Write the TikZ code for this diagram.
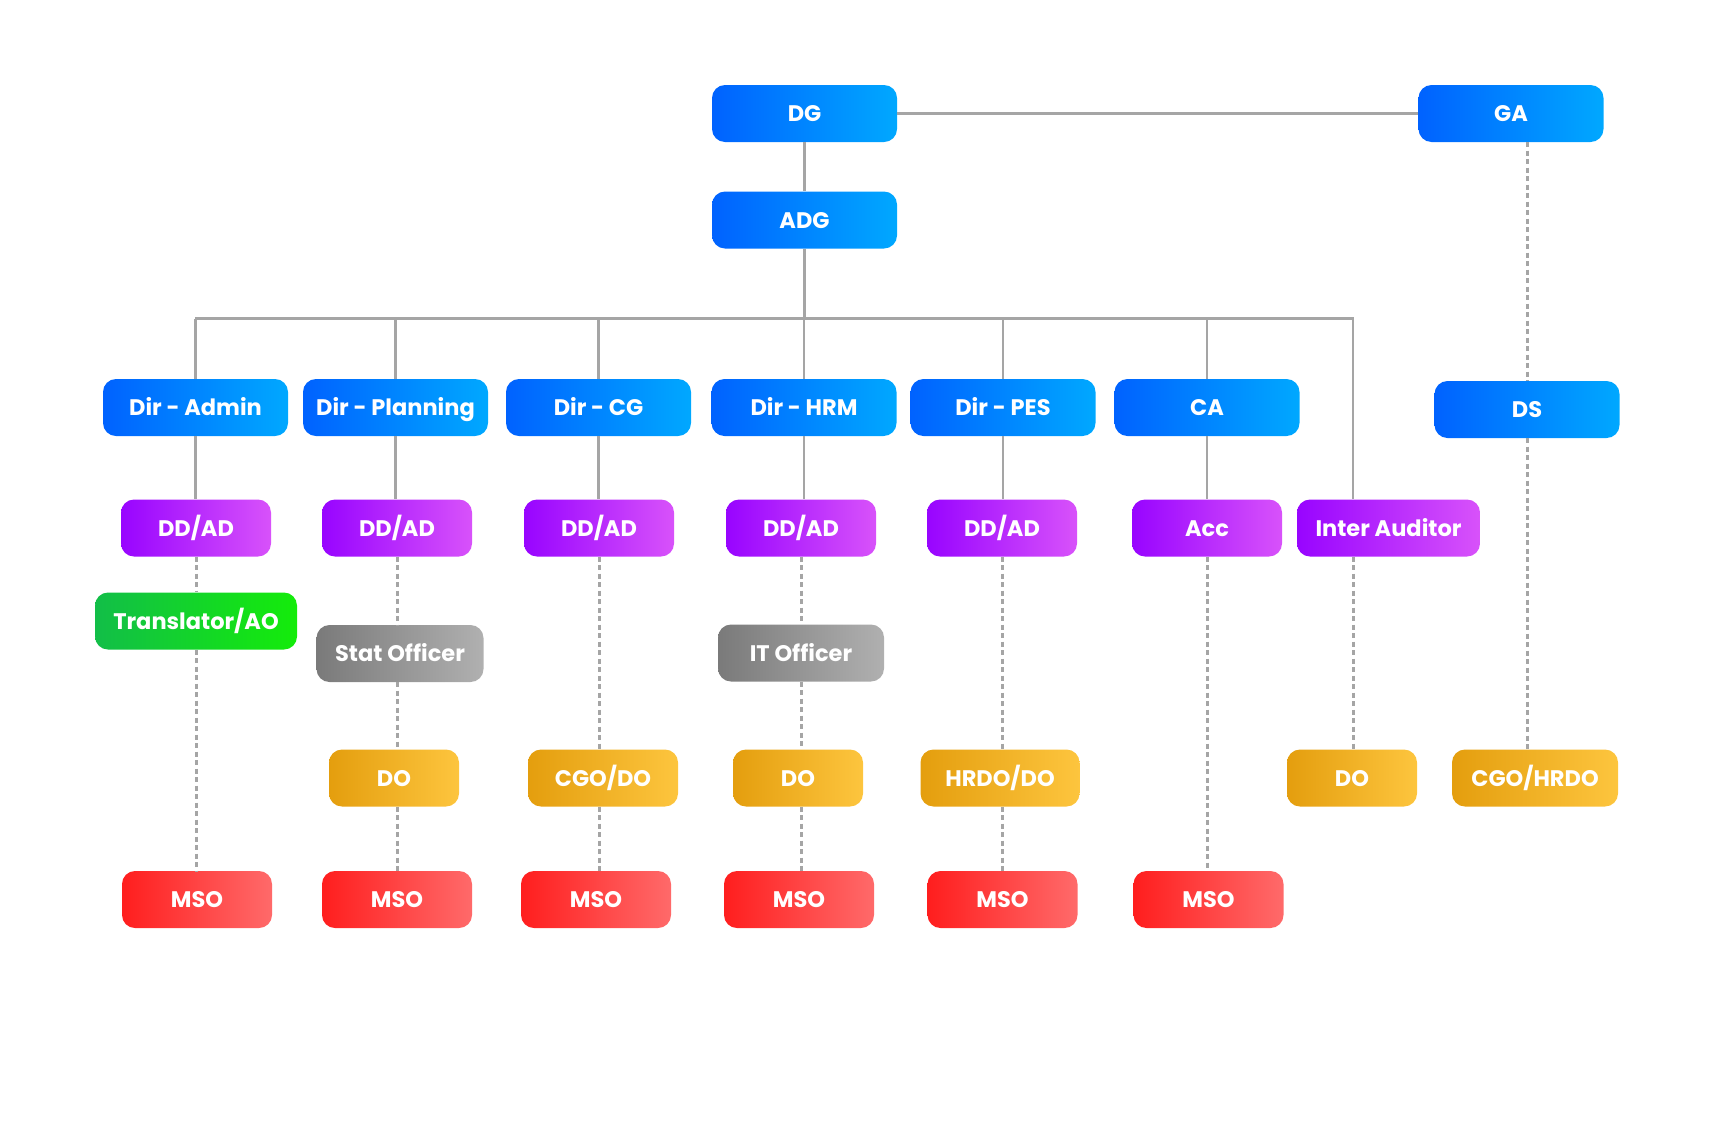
\documentclass[tikz,border=0pt]{standalone}
\usepackage{fontspec}
\setmainfont{Poppins}[BoldFont={* Bold}]
\definecolor{blueL}{RGB}{0,98,255}
\definecolor{blueR}{RGB}{0,168,255}
\definecolor{purL}{RGB}{152,4,255}
\definecolor{purR}{RGB}{216,82,250}
\definecolor{grnL}{RGB}{18,190,72}
\definecolor{grnR}{RGB}{20,236,10}
\definecolor{gryL}{RGB}{122,122,122}
\definecolor{gryR}{RGB}{176,176,176}
\definecolor{orgL}{RGB}{228,158,14}
\definecolor{orgR}{RGB}{253,197,62}
\definecolor{redL}{RGB}{255,30,30}
\definecolor{redR}{RGB}{255,106,106}
\definecolor{linegray}{RGB}{165,165,165}
\tikzset{
  box/.style={rounded corners=13pt, minimum height=57pt, inner sep=0pt,
    text height=16pt, text depth=0pt,
    text=white, font=\fontsize{22.5}{26}\selectfont\bfseries},
  bluebox/.style={box, left color=blueL, right color=blueR, minimum width=185pt},
  purbox/.style={box, left color=purL, right color=purR, minimum width=150pt},
  grnbox/.style={box, left color=grnL, right color=grnR, minimum width=202pt},
  grybox/.style={box, left color=gryL, right color=gryR, minimum width=167pt},
  orgbox/.style={box, left color=orgL, right color=orgR, minimum width=130pt},
  redbox/.style={box, left color=redL, right color=redR, minimum width=150pt},
  solidline/.style={draw=linegray, line width=2.6pt},
  dotline/.style={draw=linegray, line width=3pt, dash pattern=on 5pt off 3.5pt},
}
\begin{document}
\begin{tikzpicture}[x=1pt, y=-1pt]
\useasboundingbox (0,0) rectangle (1728,1144);
% top
\node[bluebox] (dg) at (804.5,113.5) {DG};
\node[bluebox] (adg) at (804.5,220) {ADG};
\node[bluebox] (ga) at (1511,113.5) {GA};
% directors
\node[bluebox] (dadmin) at (195.5,407.5) {Dir - Admin};
\node[bluebox] (dplan) at (395.5,407.5) {Dir - Planning};
\node[bluebox] (dcg) at (598.5,407.5) {Dir - CG};
\node[bluebox] (dhrm) at (804,407.5) {Dir - HRM};
\node[bluebox] (dpes) at (1003,407.5) {Dir - PES};
\node[bluebox] (ca) at (1207,407.5) {CA};
\node[bluebox] (ds) at (1527,409.5) {DS};
% DD/AD row
\node[purbox] (dd1) at (196,528) {DD/AD};
\node[purbox] (dd2) at (397,528) {DD/AD};
\node[purbox] (dd3) at (599,528) {DD/AD};
\node[purbox] (dd4) at (801,528) {DD/AD};
\node[purbox] (dd5) at (1002,528) {DD/AD};
\node[purbox] (acc) at (1207,528) {Acc};
\node[purbox, minimum width=183pt] (ia) at (1388.5,528) {Inter Auditor};
% middle
\node[grnbox] (tr) at (196,621) {Translator/AO};
\node[grybox] (stat) at (400,653.5) {Stat Officer};
\node[grybox, minimum width=166pt] (it) at (801,653) {IT Officer};
% DO row
\node[orgbox] (do1) at (394,778) {DO};
\node[orgbox, minimum width=150pt] (cgodo) at (603,778) {CGO/DO};
\node[orgbox] (do2) at (798,778) {DO};
\node[orgbox, minimum width=159pt] (hrdodo) at (1000,778) {HRDO/DO};
\node[orgbox] (do3) at (1352,778) {DO};
\node[orgbox, minimum width=166pt] (cgohrdo) at (1535,778) {CGO/HRDO};
% MSO row
\node[redbox] (mso1) at (197,899.5) {MSO};
\node[redbox] (mso2) at (397,899.5) {MSO};
\node[redbox] (mso3) at (596,899.5) {MSO};
\node[redbox] (mso4) at (799,899.5) {MSO};
\node[redbox] (mso5) at (1002.5,899.5) {MSO};
\node[redbox] (mso6) at (1208.5,899.5) {MSO};
% bus
\coordinate (busL) at (196,318.5);
\coordinate (busR) at (1353,318.5);
\draw[solidline] (dg.east) -- (ga.west);
\draw[solidline] (dg.south) -- (adg.north);
\draw[solidline] (adg.south) -- (adg.south |- busL);
\draw[solidline, line cap=rect] (busL) -- (busR);
\foreach \n in {dadmin,dplan,dcg,dhrm,dpes,ca}
  \draw[solidline] (\n.north) -- (\n.north |- busL);
\draw[solidline] (busR) -- (busR |- ia.north);
\draw[solidline] (dadmin.south) -- (dadmin.south |- dd1.north);
\draw[solidline] (dplan.south) -- (dplan.south |- dd2.north);
\draw[solidline] (dcg.south) -- (dcg.south |- dd3.north);
\draw[solidline] (dhrm.south) -- (dhrm.south |- dd4.north);
\draw[solidline] (dpes.south) -- (dpes.south |- dd5.north);
\draw[solidline] (ca.south) -- (ca.south |- acc.north);
% dotted
\draw[dotline] (dd1.south) -- (dd1.south |- tr.north);
\draw[dotline] (tr.south -| dd1.south) -- (dd1.south |- mso1.north);
\draw[dotline] (dd2.south) -- (dd2.south |- stat.north);
\draw[dotline] (stat.south -| dd2.south) -- (dd2.south |- do1.north);
\draw[dotline] (do1.south -| dd2.south) -- (dd2.south |- mso2.north);
\draw[dotline] (dd3.south) -- (dd3.south |- cgodo.north);
\draw[dotline] (cgodo.south -| dd3.south) -- (dd3.south |- mso3.north);
\draw[dotline] (dd4.south) -- (dd4.south |- it.north);
\draw[dotline] (it.south -| dd4.south) -- (dd4.south |- do2.north);
\draw[dotline] (do2.south -| dd4.south) -- (dd4.south |- mso4.north);
\draw[dotline] (dd5.south) -- (dd5.south |- hrdodo.north);
\draw[dotline] (hrdodo.south -| dd5.south) -- (dd5.south |- mso5.north);
\draw[dotline] (acc.south) -- (acc.south |- mso6.north);
\draw[dotline] (ia.south -| busR) -- (busR |- do3.north);
\draw[dotline] (ga.south -| ds.north) -- (ds.north);
\draw[dotline] (ds.south) -- (ds.south |- cgohrdo.north);
\end{tikzpicture}
\end{document}
